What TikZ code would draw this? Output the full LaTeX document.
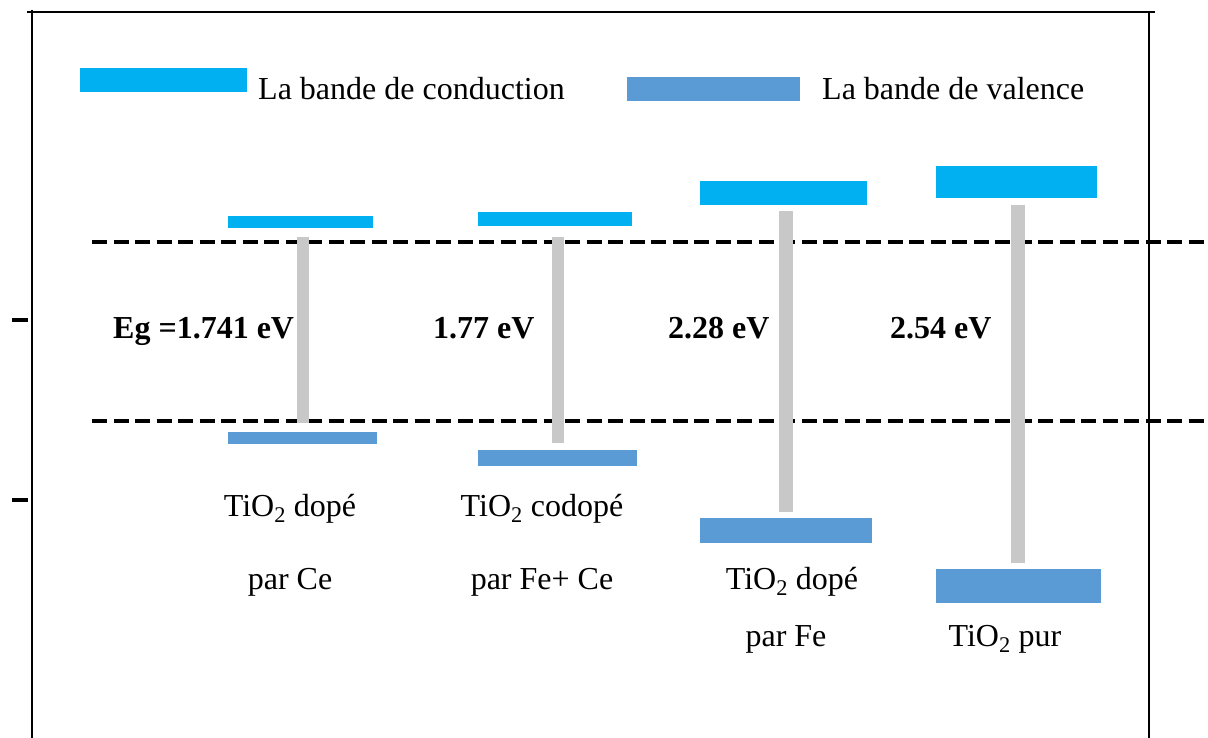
\documentclass[tikz,border=0pt]{standalone}
\usepackage{fontspec}
\setmainfont{Liberation Serif}
\usepackage{tikz}

\definecolor{condcol}{HTML}{00B0F0}
\definecolor{valcol}{HTML}{5B9BD5}
\definecolor{gapcol}{HTML}{C8C8C8}

\tikzset{
  cband/.style={fill=condcol,draw=none},
  vband/.style={fill=valcol,draw=none},
  gapbar/.style={fill=gapcol,draw=none},
  levelline/.style={line width=4pt,dash pattern=on 15pt off 6.5pt},
  txt/.style={font=\fontsize{32}{38}\selectfont,inner sep=0pt,anchor=base},
  egtxt/.style={font=\fontsize{32}{38}\selectfont\bfseries,inner sep=0pt,anchor=base west}
}

\begin{document}
\begin{tikzpicture}[x=1pt,y=-1pt]
\useasboundingbox (0,0) rectangle (1208,738);

% frame
\draw[line width=1.5pt] (27,12) -- (1155,12);
\draw[line width=1.5pt] (32,10) -- (32,738);
\draw[line width=1.5pt] (1149,12) -- (1149,738);
\draw[line width=4pt] (12,320) -- (28,320);
\draw[line width=4pt] (12,500) -- (28,500);

% legend
\fill[cband] (80,68) rectangle (247,92);
\node[txt,anchor=base west] (legc) at (258,100) {La bande de conduction};
\fill[vband] (627,77) rectangle (800,101);
\node[txt,anchor=base west] (legv) at (822,100) {La bande de valence};

% levels
\draw[levelline] (92,242) -- (1208,242);
\draw[levelline] (92,421) -- (1208,421);

% gaps
\fill[gapbar] (297,237) rectangle (309,423);
\fill[gapbar] (552,237) rectangle (564,443);
\fill[gapbar] (779,211) rectangle (793,512);
\fill[gapbar] (1011,205) rectangle (1025,563);

% conduction bands
\fill[cband] (228,216) rectangle (373,228);
\fill[cband] (478,212) rectangle (632,226);
\fill[cband] (700,181) rectangle (867,205);
\fill[cband] (936,166) rectangle (1097,198);

% valence bands
\fill[vband] (228,432) rectangle (377,444);
\fill[vband] (478,450) rectangle (637,466);
\fill[vband] (700,518) rectangle (872,543);
\fill[vband] (936,569) rectangle (1101,603);

% gap values
\node[egtxt] (eg1) at (113,338) {Eg =1.741 eV};
\node[egtxt] (eg2) at (433,338) {1.77 eV};
\node[egtxt] (eg3) at (668,338) {2.28 eV};
\node[egtxt] (eg4) at (890,338) {2.54 eV};

% samples
\node[txt] (s1a) at (290,516) {TiO\textsubscript{2} dopé};
\node[txt] (s1b) at (290,589) {par Ce};
\node[txt] (s2a) at (542,516) {TiO\textsubscript{2} codopé};
\node[txt] (s2b) at (542,589) {par Fe+ Ce};
\node[txt] (s3a) at (792,589) {TiO\textsubscript{2} dopé};
\node[txt] (s3b) at (786,646) {par Fe};
\node[txt] (s4a) at (1005,646) {TiO\textsubscript{2} pur};
\end{tikzpicture}
\end{document}
